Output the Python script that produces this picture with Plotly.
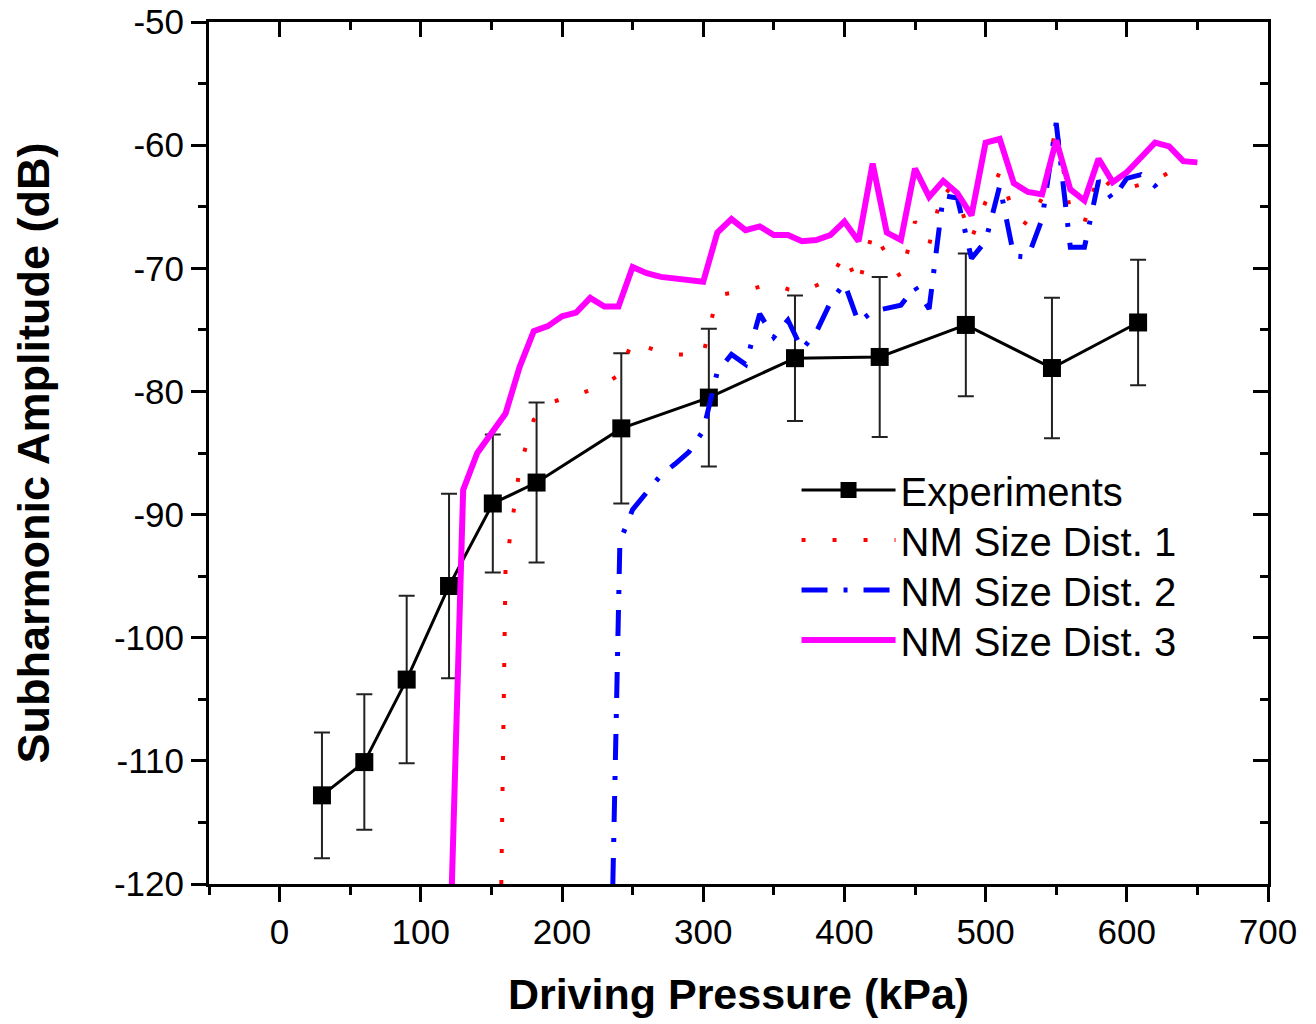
import plotly.graph_objects as go

# ---------------- data ----------------
exp_p = [30, 60, 90, 120, 151, 182, 242, 304, 365, 425, 486, 547, 608]
exp_db = [-112.8, -110.1, -103.4, -95.8, -89.1, -87.4, -83.0, -80.5, -77.3, -77.2, -74.6, -78.1, -74.4]
exp_err = [5.1, 5.5, 6.8, 7.5, 5.6, 6.5, 6.1, 5.6, 5.1, 6.5, 5.8, 5.7, 5.1]

d1_p = [157, 160, 170, 180, 190, 200, 210, 220, 230, 240, 250, 260, 270, 280, 290, 300,
        310, 320, 330, 340, 350, 360, 370, 380, 390, 400, 410, 420, 430, 440, 450, 460,
        470, 480, 490, 500, 510, 520, 530, 540, 550, 560, 570, 580, 590, 600, 610, 620, 630]
d1_db = [-120, -94.5, -86.2, -82.3, -81.0, -80.6, -80.3, -79.9, -79.4, -78.7, -75.9, -76.4, -76.8, -77.0, -77.0, -77.0,
         -72.2, -72.0, -71.8, -71.5, -71.3, -71.7, -71.9, -71.4, -70.9, -68.8, -71.4, -67.0, -68.9, -70.8, -66.2, -68.1,
         -63.4, -64.3, -67.6, -64.6, -62.2, -65.6, -66.5, -64.3, -58.4, -65.5, -66.3, -62.3, -63.5, -63.5, -63.2, -62.9, -62.2]

d2_p = [236, 241, 250, 260, 270, 280, 290, 300, 310, 320, 330, 340, 350, 360, 370, 380, 390, 400,
        410, 420, 430, 440, 450, 460, 470, 480, 490, 500, 510, 520, 530, 540, 550, 560, 570, 580,
        590, 600, 610, 620, 625]
d2_db = [-120, -92.2, -89.6, -88.2, -86.8, -85.9, -84.9, -83.2, -78.4, -77.0, -77.8, -73.7, -75.6, -74.2, -76.6, -75.2, -72.8, -71.2,
         -74.4, -73.5, -73.2, -73.0, -71.5, -73.3, -64.1, -64.3, -69.2, -67.8, -63.3, -69.0, -69.1, -66.0, -58.2, -68.3, -68.3, -62.9,
         -64.4, -62.7, -62.4, -63.3, -64.0]

d3_p = [122, 130, 140, 150, 160, 170, 180, 190, 200, 210, 220, 230, 240, 250, 260, 270, 280, 290, 300,
        310, 320, 330, 340, 350, 360, 370, 380, 390, 400, 410, 420, 430, 440, 450, 460, 470, 480, 490,
        500, 510, 520, 530, 540, 550, 560, 570, 580, 590, 600, 610, 620, 630, 640, 650]
d3_db = [-120, -88.0, -85.0, -83.4, -81.8, -78.0, -75.1, -74.7, -73.9, -73.6, -72.4, -73.1, -73.1, -69.9, -70.4, -70.7, -70.85, -70.95, -71.1,
         -67.1, -66.0, -66.9, -66.6, -67.3, -67.3, -67.8, -67.7, -67.3, -66.2, -67.8, -61.5, -67.1, -67.7, -61.9, -64.2, -62.9, -63.9, -65.7,
         -59.8, -59.5, -63.1, -63.8, -64.0, -59.6, -63.6, -64.5, -61.1, -63.0, -62.2, -61.0, -59.8, -60.1, -61.3, -61.4]

x_ticks = [0, 100, 200, 300, 400, 500, 600, 700]
x_ticktext = ["0", "100", "200", "300", "400", "500", "600", "700"]
y_ticks = [-120, -110, -100, -90, -80, -70, -60, -50]
y_ticktext = ["-120", "-110", "-100", "-90", "-80", "-70", "-60", "-50"]

FONT = "Arial, Liberation Sans, sans-serif"

fig = go.Figure()

fig.add_trace(go.Scatter(
    x=exp_p, y=exp_db, name="Experiments", mode="lines+markers", legend="legend",
    line=dict(color="black", width=3),
    marker=dict(symbol="square", size=18, color="black"),
    error_y=dict(type="data", array=exp_err, visible=True, color="#222222", thickness=2, width=8),
))
fig.add_trace(go.Scatter(
    x=d1_p, y=d1_db, name="NM Size Dist. 1", mode="lines", legend="legend2",
    line=dict(color="#ff0000", width=4, dash="4px,27px"),
))
fig.add_trace(go.Scatter(
    x=d2_p, y=d2_db, name="NM Size Dist. 2", mode="lines", legend="legend3",
    line=dict(color="#0000ff", width=5, dash="26px,16px,4px,16px"),
))
fig.add_trace(go.Scatter(
    x=d3_p, y=d3_db, name="NM Size Dist. 3", mode="lines", legend="legend4",
    line=dict(color="#ff00ff", width=6),
))
# helper invisible trace for the mirrored (inside-tick) axes
fig.add_trace(go.Scatter(x=[None], y=[None], xaxis="x2", yaxis="y2",
                         showlegend=False, hoverinfo="skip"))

axis_common = dict(
    showline=True, linecolor="black", linewidth=3, showgrid=False, zeroline=False,
    ticks="outside", ticklen=15, tickwidth=3, tickcolor="black", automargin=False,
    tickfont=dict(family=FONT, size=35, color="black"), ticklabeloverflow="allow",
)

def leg(ypos):
    return dict(
        x=0.5548, y=ypos, xanchor="left", yanchor="middle",
        font=dict(family=FONT, size=40, color="black"),
        bgcolor="rgba(0,0,0,0)", itemwidth=94,
    )

fig.update_layout(
    width=1316, height=1024,
    margin=dict(l=209, r=48, t=22, b=140),
    paper_bgcolor="white", plot_bgcolor="white",
    font=dict(family=FONT, color="black"),
    xaxis=dict(
        **axis_common, range=[-50, 700], tickvals=x_ticks, ticktext=x_ticktext, mirror=True,
        minor=dict(ticks="outside", ticklen=8, tickwidth=3, tickcolor="black", dtick=50, tick0=0),
        title=dict(text="<b>Driving Pressure (kPa)</b>", font=dict(family=FONT, size=43), standoff=29),
    ),
    yaxis=dict(
        **axis_common, range=[-120, -50], tickvals=y_ticks, ticktext=y_ticktext, mirror=True,
        minor=dict(ticks="outside", ticklen=8, tickwidth=3, tickcolor="black", dtick=5, tick0=-120),
        title=dict(text="<b>Subharmonic Amplitude (dB)</b>", font=dict(family=FONT, size=45), standoff=51),
    ),
    xaxis2=dict(
        overlaying="x", side="top", range=[-50, 700], tickvals=x_ticks, showticklabels=False,
        ticks="inside", ticklen=15, tickwidth=3, tickcolor="black", showgrid=False, zeroline=False,
        showline=False, automargin=False,
        minor=dict(ticks="inside", ticklen=8, tickwidth=3, tickcolor="black", dtick=50, tick0=0),
    ),
    yaxis2=dict(
        overlaying="y", side="right", range=[-120, -50], tickvals=y_ticks, showticklabels=False,
        ticks="inside", ticklen=15, tickwidth=3, tickcolor="black", showgrid=False, zeroline=False,
        showline=False, automargin=False,
        minor=dict(ticks="inside", ticklen=8, tickwidth=3, tickcolor="black", dtick=5, tick0=-120),
    ),
    legend=leg(0.4571),
    legend2=leg(0.3991),
    legend3=leg(0.3410),
    legend4=leg(0.2830),
    showlegend=True,
)

fig.write_html(
    "out.html",
    config={"displayModeBar": False},
    post_script="document.body.style.margin='0';document.body.style.padding='0';",
)
